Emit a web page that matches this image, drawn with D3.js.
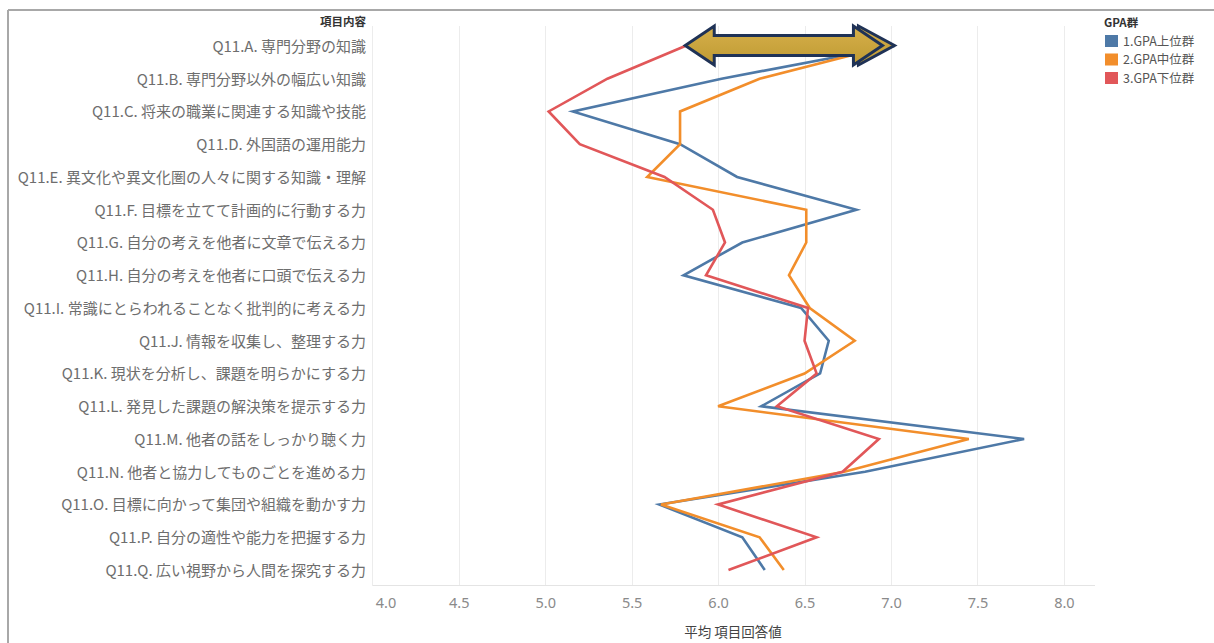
<!DOCTYPE html>
<html>
<head>
<meta charset="utf-8">
<script src="https://cdn.jsdelivr.net/npm/d3@7"></script>
<style>
  html, body { margin: 0; padding: 0; background: #fff; }
  svg { display: block; font-family: "Noto Sans CJK JP", "Noto Sans", sans-serif; }
</style>
</head>
<body>
<svg id="chart" width="1214" height="643"></svg>
<script>
// Survey items (rows, top to bottom)
const categories = [
  "Q11.A. 専門分野の知識",
  "Q11.B. 専門分野以外の幅広い知識",
  "Q11.C. 将来の職業に関連する知識や技能",
  "Q11.D. 外国語の運用能力",
  "Q11.E. 異文化や異文化圏の人々に関する知識・理解",
  "Q11.F. 目標を立てて計画的に行動する力",
  "Q11.G. 自分の考えを他者に文章で伝える力",
  "Q11.H. 自分の考えを他者に口頭で伝える力",
  "Q11.I. 常識にとらわれることなく批判的に考える力",
  "Q11.J. 情報を収集し、整理する力",
  "Q11.K. 現状を分析し、課題を明らかにする力",
  "Q11.L. 発見した課題の解決策を提示する力",
  "Q11.M. 他者の話をしっかり聴く力",
  "Q11.N. 他者と協力してものごとを進める力",
  "Q11.O. 目標に向かって集団や組織を動かす力",
  "Q11.P. 自分の適性や能力を把握する力",
  "Q11.Q. 広い視野から人間を探究する力"
];

// Mean item response per GPA group
const seriesNames = ["1.GPA上位群", "2.GPA中位群", "3.GPA下位群"];
const gpaHigh = [7.02, 6.02, 5.16, 5.78, 6.11, 6.80, 6.14, 5.80, 6.48, 6.64, 6.59, 6.25, 7.77, 6.85, 5.66, 6.14, 6.27];
const gpaMid  = [6.98, 6.24, 5.78, 5.78, 5.59, 6.51, 6.51, 6.41, 6.53, 6.79, 6.50, 6.00, 7.45, 6.73, 5.67, 6.24, 6.38];
const gpaLow  = [5.81, 5.36, 5.02, 5.20, 5.69, 5.97, 6.04, 5.93, 6.52, 6.50, 6.57, 6.34, 6.93, 6.72, 6.00, 6.57, 6.06];
const seriesColors = ["#4e79a7", "#f28e2b", "#e15759"];

// Axis ticks
const xTicks = [4.0, 4.5, 5.0, 5.5, 6.0, 6.5, 7.0, 7.5, 8.0];
const xDomain = [4, 8.18];

// Gap annotation on item A: from the low group to the high group
const gapFrom = gpaLow[0];
const gapTo = gpaHigh[0];

const svg = d3.select("#chart");

const plot = { left: 372.3, right: 1095, top: 29.6, bottom: 586.4 };

const x = d3.scaleLinear().domain(xDomain).range([plot.left, plot.right]);
const y = d3.scalePoint().domain(categories).range([plot.top, plot.bottom]).padding(0.5);

// Outer frame (top and left edges)
svg.append("line").attr("x1", 8).attr("x2", 1214).attr("y1", 10).attr("y2", 10)
  .attr("stroke", "#a8a8a8").attr("stroke-width", 2);
svg.append("line").attr("x1", 8).attr("x2", 8).attr("y1", 10).attr("y2", 643)
  .attr("stroke", "#a8a8a8").attr("stroke-width", 2);

// Vertical gridlines
svg.append("g").selectAll("line").data(xTicks).join("line")
  .attr("x1", d => Math.round(x(d)) + 0.5).attr("x2", d => Math.round(x(d)) + 0.5)
  .attr("y1", 26).attr("y2", 585)
  .attr("stroke", "#ececec").attr("stroke-width", 1);

// Bottom axis line
svg.append("line").attr("x1", plot.left).attr("x2", plot.right)
  .attr("y1", 585.5).attr("y2", 585.5).attr("stroke", "#e4e4e4").attr("stroke-width", 1);

// X axis labels (first label kept inside the pane)
const xAxis = d3.axisBottom(x).tickValues(xTicks).tickFormat(d3.format(".1f")).tickSize(0).tickPadding(0);
const gx = svg.append("g").attr("transform", "translate(0,598)").call(xAxis);
gx.select(".domain").remove();
gx.selectAll("text")
  .attr("dy", "0.71em")
  .attr("font-size", 14.5)
  .attr("fill", "#8a8a8a")
  .attr("font-family", "'Noto Sans', sans-serif")
  .attr("text-anchor", (d, i) => i === 0 ? "start" : "middle")
  .attr("x", (d, i) => i === 0 ? 3 : 0);

svg.append("text").attr("x", 733).attr("y", 637).attr("text-anchor", "middle")
  .attr("font-size", 13.5).attr("fill", "#444").text("平均 項目回答値");

// Y axis labels
const yAxis = d3.axisLeft(y).tickSize(0).tickPadding(0);
const gy = svg.append("g").attr("transform", "translate(366,0)").call(yAxis);
gy.select(".domain").remove();
gy.selectAll("text")
  .attr("font-size", 15)
  .attr("fill", "#6e6e6e")
  .attr("font-family", "'Noto Sans CJK JP', sans-serif")
  .attr("dy", "0.36em");

svg.append("text").attr("x", 366).attr("y", 26).attr("text-anchor", "end")
  .attr("font-size", 11.5).attr("font-weight", 700).attr("fill", "#333").text("項目内容");

// Series lines
const series = [gpaHigh, gpaMid, gpaLow];
const line = d3.line().x(d => x(d.v)).y(d => y(d.c));
svg.append("g").selectAll("path").data(series).join("path")
  .attr("d", vals => line(vals.map((v, i) => ({ v, c: categories[i] }))))
  .attr("fill", "none")
  .attr("stroke", (d, i) => seriesColors[i])
  .attr("stroke-width", 2.6)
  .attr("stroke-linejoin", "miter");

// Double-headed gap arrow on item A
const defs = svg.append("defs");
const grad = defs.append("linearGradient").attr("id", "gold").attr("x1", 0).attr("x2", 0).attr("y1", 0).attr("y2", 1);
grad.append("stop").attr("offset", "0%").attr("stop-color", "#d6b04a");
grad.append("stop").attr("offset", "100%").attr("stop-color", "#bf9a33");

const cy = y(categories[0]) - 0.5;
const ax0 = x(gapFrom), ax1 = x(gapTo);
const headLen = 29, headH = 19.5, shaftH = 10, echo = 12;
const arrow = svg.append("g");
// echoed right head behind the main arrow
arrow.append("polygon")
  .attr("points", [
    [ax1 - echo - headLen + 5, cy - headH], [ax1, cy], [ax1 - echo - headLen + 5, cy + headH]
  ].map(p => p.join(",")).join(" "))
  .attr("fill", "url(#gold)").attr("stroke", "#1f3256").attr("stroke-width", 3).attr("stroke-linejoin", "miter");
const tipR = ax1 - echo;
arrow.append("polygon")
  .attr("points", [
    [ax0, cy],
    [ax0 + headLen, cy - headH],
    [ax0 + headLen, cy - shaftH],
    [tipR - headLen, cy - shaftH],
    [tipR - headLen, cy - headH],
    [tipR, cy],
    [tipR - headLen, cy + headH],
    [tipR - headLen, cy + shaftH],
    [ax0 + headLen, cy + shaftH],
    [ax0 + headLen, cy + headH]
  ].map(p => p.join(",")).join(" "))
  .attr("fill", "url(#gold)").attr("stroke", "#1f3256").attr("stroke-width", 3).attr("stroke-linejoin", "miter");

// Legend
const legend = svg.append("g").attr("transform", "translate(1104,0)");
legend.append("text").attr("x", 0).attr("y", 27).attr("font-size", 11.5).attr("font-weight", 700)
  .attr("fill", "#333").text("GPA群");
const items = legend.selectAll("g.item").data(seriesNames).join("g").attr("class", "item")
  .attr("transform", (d, i) => `translate(0,${41 + i * 18.5})`);
items.append("rect").attr("x", 1).attr("y", -6).attr("width", 13).attr("height", 12)
  .attr("fill", (d, i) => seriesColors[i]);
items.append("text").attr("x", 19).attr("y", 0).attr("dy", "0.36em").attr("font-size", 12.5)
  .attr("fill", "#555").text(d => d);
</script>
</body>
</html>
